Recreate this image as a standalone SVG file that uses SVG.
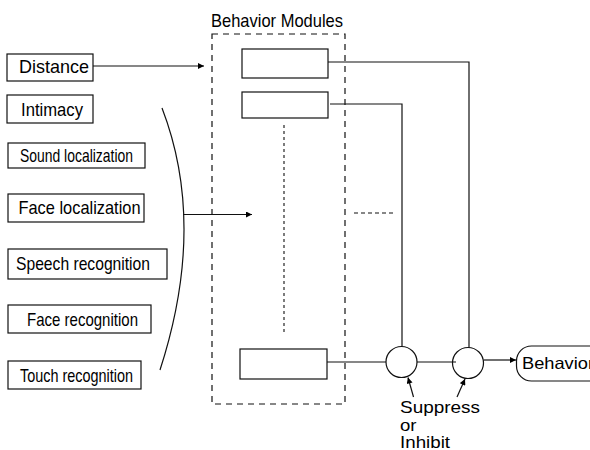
<svg xmlns="http://www.w3.org/2000/svg" width="590" height="450" viewBox="0 0 590 450">
<defs>
<style>
.box{fill:#fff;stroke:#111;stroke-width:1.2}
.ln{fill:none;stroke:#111;stroke-width:1.2}
.t{font-family:"Liberation Sans",Arial,sans-serif;fill:#000}
.lbl{font-size:19px}
.sm{font-size:16.5px}
</style>
<marker id="ah" viewBox="0 0 10 10" refX="10" refY="5" markerWidth="8" markerHeight="6" markerUnits="userSpaceOnUse" orient="auto">
<path d="M0,0 L10,5 L0,10 z" fill="#000"/>
</marker>
</defs>
<rect width="590" height="450" fill="#fff"/>

<g id="sensor-distance"><rect class="box" x="7" y="54" width="86" height="27"/><text class="t lbl" x="19" y="73" textLength="70" lengthAdjust="spacingAndGlyphs">Distance</text></g>
<g id="sensor-intimacy"><rect class="box" x="7" y="95" width="86" height="28"/><text class="t lbl" x="21" y="116" textLength="62" lengthAdjust="spacingAndGlyphs">Intimacy</text></g>
<g id="sensor-sound"><rect class="box" x="8" y="143" width="137" height="25"/><text class="t lbl" x="20" y="161.5" textLength="113" lengthAdjust="spacingAndGlyphs">Sound localization</text></g>
<g id="sensor-facelocal"><rect class="box" x="8" y="194" width="136" height="28"/><text class="t lbl" x="18.5" y="213.5" textLength="122" lengthAdjust="spacingAndGlyphs">Face localization</text></g>
<g id="sensor-speech"><rect class="box" x="8" y="249" width="159" height="30"/><text class="t lbl" x="16" y="270" textLength="134" lengthAdjust="spacingAndGlyphs">Speech recognition</text></g>
<g id="sensor-facerec"><rect class="box" x="8" y="305" width="143" height="28"/><text class="t lbl" x="27" y="326" textLength="111" lengthAdjust="spacingAndGlyphs">Face recognition</text></g>
<g id="sensor-touch"><rect class="box" x="8" y="361" width="133" height="28"/><text class="t lbl" x="20" y="382" textLength="113" lengthAdjust="spacingAndGlyphs">Touch recognition</text></g>

<g id="behavior-modules">
<text class="t lbl" x="211" y="27" textLength="132" lengthAdjust="spacingAndGlyphs">Behavior Modules</text>
<rect x="212" y="34" width="133" height="370" fill="none" stroke="#111" stroke-width="1.2" stroke-dasharray="6,5"/>
<line x1="284" y1="125" x2="284" y2="333" stroke="#111" stroke-width="1.1" stroke-dasharray="3,3"/>
</g>
<g id="module-1"><rect class="box" x="242" y="49" width="86" height="29"/></g>
<g id="module-2"><rect class="box" x="242" y="92" width="86" height="26"/></g>
<g id="module-n"><rect class="box" x="240" y="349" width="87" height="30"/></g>

<g id="node-s1"><circle class="ln" cx="401.5" cy="362" r="15.5"/></g>
<g id="node-s2"><circle class="ln" cx="468" cy="363" r="15.5"/></g>
<g id="node-behavior"><rect class="box" x="516.5" y="346" width="90" height="35" rx="15" ry="15"/><text class="t sm" x="522" y="368.5" textLength="72" lengthAdjust="spacingAndGlyphs">Behavior</text></g>

<g id="label-suppress">
<text class="t sm" x="400" y="413" textLength="80" lengthAdjust="spacingAndGlyphs">Suppress</text>
<text class="t sm" x="400" y="430.5" textLength="16.5" lengthAdjust="spacingAndGlyphs">or</text>
<text class="t sm" x="400" y="448" textLength="50" lengthAdjust="spacingAndGlyphs">Inhibit</text>
</g>

<g id="connectors">
<line class="ln" x1="93" y1="66" x2="204" y2="66" marker-end="url(#ah)"/>
<path class="ln" d="M162,108 Q207,225 160,370"/>
<line class="ln" x1="183" y1="214.5" x2="252" y2="214.5" marker-end="url(#ah)"/>
<polyline class="ln" points="328,62 469,62 469,347.5"/>
<polyline class="ln" points="330,104 402,104 402,346.5"/>
<line class="ln" x1="327" y1="362" x2="386" y2="362"/>
<line class="ln" x1="417" y1="362" x2="456" y2="362"/>
<line class="ln" x1="484" y1="360" x2="516" y2="360" marker-end="url(#ah)"/>
<line x1="354" y1="213" x2="394" y2="213" stroke="#111" stroke-width="1.1" stroke-dasharray="4,3"/>
<line class="ln" x1="413.5" y1="397" x2="408" y2="377.5" marker-end="url(#ah)"/>
<line class="ln" x1="457" y1="397" x2="465" y2="379" marker-end="url(#ah)"/>
</g>
</svg>
